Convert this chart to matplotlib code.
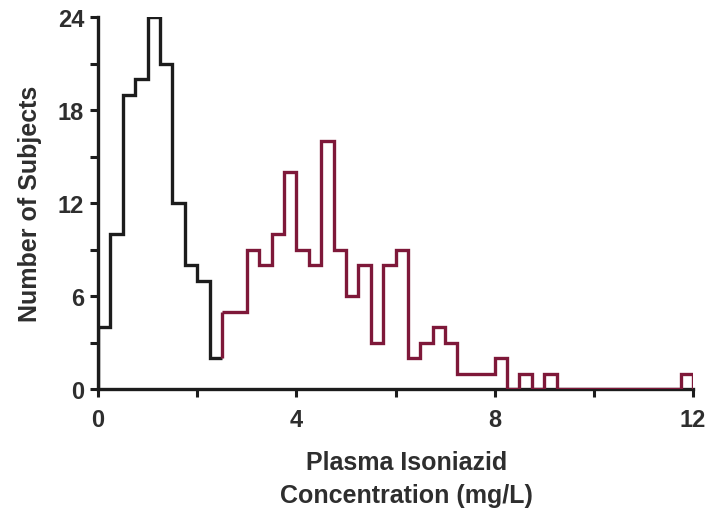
import numpy as np
import matplotlib
matplotlib.use("Agg")
import matplotlib.pyplot as plt

# Histogram of plasma isoniazid concentration, bin width 0.25 mg/L
bin_width = 0.25

# Fast acetylators (0 - 2.5 mg/L)
fast_start = 0.0
fast_counts = [4, 10, 19, 20, 24, 21, 12, 8, 7, 2]

# Slow acetylators (2.5 - 12 mg/L)
slow_start = 2.5
slow_counts = [5, 5, 9, 8, 10, 14, 9, 8, 16, 9,
               6, 8, 3, 8, 9, 2, 3, 4, 3, 1,
               1, 1, 2, 0, 1, 0, 1, 0, 0, 0,
               0, 0, 0, 0, 0, 0, 0, 1]

x_ticks = [0, 2, 4, 6, 8, 10, 12]
x_ticklabels = ["0", "", "4", "", "8", "", "12"]
y_ticks = [0, 3, 6, 9, 12, 15, 18, 21, 24]
y_ticklabels = ["0", "", "6", "", "12", "", "18", "", "24"]

fast_edges = fast_start + bin_width * np.arange(len(fast_counts) + 1)
slow_edges = slow_start + bin_width * np.arange(len(slow_counts) + 1)

BLACK = "#1c1c1c"
MAROON = "#7e1839"
TEXT = "#2e2e2e"

plt.rcParams["font.family"] = ["Liberation Sans", "DejaVu Sans"]
plt.rcParams["font.weight"] = "bold"

fig = plt.figure(figsize=(7.06, 5.10), dpi=100)
ax = fig.add_axes([98 / 706, 1 - 390 / 510, (693 - 98) / 706, (390 - 18) / 510])

lw = 2.4
ax.stairs(fast_counts, fast_edges, baseline=None, color=BLACK, linewidth=lw,
          zorder=3)
ax.vlines(fast_edges[0], 0, fast_counts[0], color=BLACK,
          linewidth=lw, zorder=3)
ax.stairs(slow_counts, slow_edges, baseline=None, color=MAROON, linewidth=lw,
          zorder=3)
# join the two outlines and close the right end
ax.vlines(slow_edges[0], fast_counts[-1], slow_counts[0], color=MAROON,
          linewidth=lw, zorder=3)
ax.vlines(slow_edges[-1], 0, slow_counts[-1], color=MAROON,
          linewidth=lw, zorder=3)

ax.set_xlim(0, 12)
ax.set_ylim(0, 24)
ax.set_xticks(x_ticks)
ax.set_xticklabels(x_ticklabels)
ax.set_yticks(y_ticks)
ax.set_yticklabels(y_ticklabels)

for side in ("top", "right"):
    ax.spines[side].set_visible(False)
for side in ("left", "bottom"):
    ax.spines[side].set_linewidth(2.4)
    ax.spines[side].set_color(BLACK)
ax.spines["left"].set_zorder(4)

ax.tick_params(axis="both", direction="out", length=6, width=2.2,
               color=BLACK, labelsize=17, labelcolor=TEXT)
ax.tick_params(axis="x", pad=8)
ax.tick_params(axis="y", pad=4)

ax.set_ylabel("Number of Subjects", fontsize=18, fontweight="bold",
              color=TEXT)
ax.yaxis.set_label_coords(-0.094, 0.5, transform=ax.transAxes)
ax.set_xlabel("Plasma Isoniazid\nConcentration (mg/L)", fontsize=18,
              fontweight="bold", color=TEXT, linespacing=1.45)
ax.xaxis.set_label_coords(0.518, -0.165, transform=ax.transAxes)
ax.xaxis.label.set_verticalalignment("top")

for t in ax.get_xticklabels() + ax.get_yticklabels():
    t.set_fontweight("bold")

fig.savefig("out.png", dpi=100, facecolor="white")
